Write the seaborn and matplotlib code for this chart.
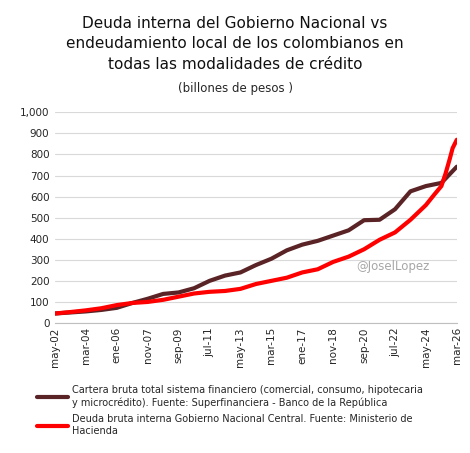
import matplotlib
matplotlib.use("Agg")
import matplotlib.pyplot as plt
import seaborn as sns
import pandas as pd

tick_labels = ["may-02", "mar-04", "ene-06", "nov-07", "sep-09", "jul-11", "may-13",
               "mar-15", "ene-17", "nov-18", "sep-20", "jul-22", "may-24", "mar-26"]

cartera_mes = [0, 11, 22, 33, 44, 55, 66, 77, 88, 99, 110, 121, 132, 143, 154, 165,
               176, 187, 198, 209, 220, 231, 242, 253, 264, 275, 286]
cartera = [45, 50, 55, 62, 72, 95, 115, 138, 145, 165, 200, 225, 240, 275, 305, 345,
           372, 390, 415, 440, 488, 490, 540, 625, 650, 665, 742]

deuda_mes = [0, 11, 22, 33, 44, 55, 66, 77, 88, 99, 110, 121, 132, 143, 154, 165,
             176, 187, 198, 209, 220, 231, 242, 253, 264, 270, 275, 278, 281, 283, 286]
deuda = [45, 52, 60, 70, 85, 95, 100, 110, 125, 140, 148, 152, 162, 185, 200, 215,
         240, 255, 290, 315, 350, 395, 430, 490, 560, 610, 650, 710, 780, 830, 870]

lab_c = ("Cartera bruta total sistema financiero (comercial, consumo, hipotecaria\n"
         "y microcrédito). Fuente: Superfinanciera - Banco de la República")
lab_d = ("Deuda bruta interna Gobierno Nacional Central. Fuente: Ministerio de\n"
         "Hacienda")

df = pd.concat([
    pd.DataFrame({"mes": cartera_mes, "valor": cartera, "serie": lab_c}),
    pd.DataFrame({"mes": deuda_mes, "valor": deuda, "serie": lab_d}),
])

sns.set_style("white")
plt.rcParams["font.family"] = ["DejaVu Sans"]

fig = plt.figure(figsize=(4.7, 4.53), dpi=100)
ax = fig.add_axes([0.117, 0.287, 0.855, 0.465])
sns.lineplot(data=df, x="mes", y="valor", hue="serie",
             palette={lab_c: "#5a2325", lab_d: "#ff0000"}, linewidth=3, ax=ax)

ax.set_xlim(0, 286)
ax.set_ylim(0, 1000)
ax.set_xticks(range(0, 287, 22))
ax.set_xticklabels(tick_labels, rotation=90, fontsize=7.5)
ax.set_yticks(range(0, 1001, 100))
ax.set_yticklabels([f"{v:,}" for v in range(0, 1001, 100)], fontsize=7.5)
ax.grid(axis="y", color="#d9d9d9", linewidth=0.8)
for s in ["top", "right", "left"]:
    ax.spines[s].set_visible(False)
ax.spines["bottom"].set_color("#bfbfbf")
ax.tick_params(axis="y", length=0, pad=4)
ax.tick_params(axis="x", length=0, pad=3)
ax.set_xlabel("")
ax.set_ylabel("")

ax.text(0.84, 0.25, "@JoselLopez", transform=ax.transAxes, fontsize=8.5,
        color="#a6a6a6", ha="center")

fig.text(0.5, 0.965, "Deuda interna del Gobierno Nacional vs\n"
         "endeudamiento local de los colombianos en\n"
         "todas las modalidades de crédito",
         ha="center", va="top", fontsize=11, linespacing=1.45, color="#111111")
fig.text(0.5, 0.818, "(billones de pesos )", ha="center", va="top", fontsize=8.5)

ax.legend(loc="upper left", bbox_to_anchor=(0.07, 0.158), bbox_transform=fig.transFigure,
          frameon=False, handlelength=3.2, labelspacing=0.7,
          borderaxespad=0, handletextpad=0.4, prop={"size": 7})

fig.savefig("out.png", dpi=100)
